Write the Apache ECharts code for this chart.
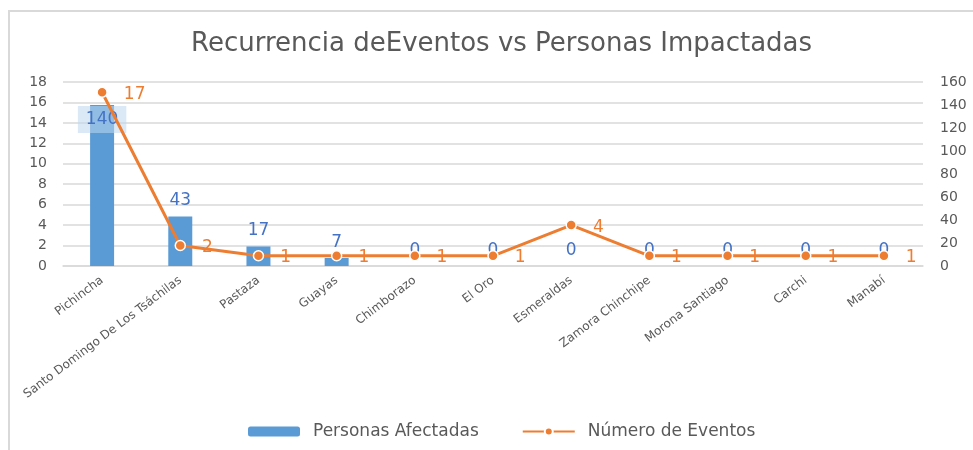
<!DOCTYPE html>
<html>
<head>
<meta charset="utf-8">
<script src="https://cdn.jsdelivr.net/npm/echarts@6/dist/echarts.min.js"></script>
<style>
html,body{margin:0;padding:0;background:#fff;}
#frame{position:absolute;left:8px;top:10px;width:965px;height:440px;border-left:2px solid #d9d9d9;border-top:2px solid #d9d9d9;box-sizing:border-box;}
#main{position:absolute;left:0;top:0;width:973px;height:450px;}
</style>
</head>
<body>
<div id="frame"></div>
<div id="main"></div>
<script>
const categories = ['Pichincha','Santo Domingo De Los Tsáchilas','Pastaza','Guayas','Chimborazo','El Oro','Esmeraldas','Zamora Chinchipe','Morona Santiago','Carchi','Manabí'];
const personasAfectadas = [140, 43, 17, 7, 0, 0, 0, 0, 0, 0, 0];
const numeroEventos = [17, 2, 1, 1, 1, 1, 4, 1, 1, 1, 1];
const leftTicks = {min: 0, max: 18, interval: 2};
const rightTicks = {min: 0, max: 160, interval: 20};

const FONT = 'DejaVu Sans';
const chart = echarts.init(document.getElementById('main'), null, {renderer: 'canvas'});

const barData = personasAfectadas.map((v, i) => {
  if (i === 0) {
    return {value: v, label: {position: 'insideTop', distance: 1, backgroundColor: 'rgba(189,215,238,0.55)', padding: [5, 8, 5, 8]}};
  }
  return v;
});

chart.setOption({
  animation: false,
  title: {
    text: 'Recurrencia deEventos vs Personas Impactadas',
    left: 186, top: 26,
    textStyle: {fontFamily: FONT, fontSize: 26, fontWeight: 'normal', color: '#595959'}
  },
  grid: {left: 63, right: 50, top: 82, bottom: 184, containLabel: false},
  legend: {
    left: 243, top: 418,
    itemWidth: 52, itemHeight: 10, itemGap: 43,
    textStyle: {fontFamily: FONT, fontSize: 17, color: '#595959', padding: [0, 0, 0, 8]},
    data: ['Personas Afectadas', 'Número de Eventos']
  },
  xAxis: {
    type: 'category', data: categories,
    axisLine: {lineStyle: {color: '#d9d9d9', width: 1.5}},
    axisTick: {show: false},
    axisLabel: {rotate: 37, interval: 0, fontFamily: FONT, fontSize: 12, color: '#595959', margin: 13}
  },
  yAxis: [
    {type: 'value', min: leftTicks.min, max: leftTicks.max, interval: leftTicks.interval,
     axisLine: {show: false}, axisTick: {show: false},
     axisLabel: {fontFamily: FONT, fontSize: 14, color: '#595959', margin: 16},
     splitLine: {lineStyle: {color: '#d9d9d9', width: 1.5}}},
    {type: 'value', min: rightTicks.min, max: rightTicks.max, interval: rightTicks.interval,
     axisLine: {show: false}, axisTick: {show: false},
     axisLabel: {fontFamily: FONT, fontSize: 14, color: '#595959', margin: 17},
     splitLine: {show: false}}
  ],
  series: [
    {name: 'Personas Afectadas', type: 'bar', yAxisIndex: 1, data: barData, barWidth: 24,
     itemStyle: {color: '#5B9BD5'},
     label: {show: true, position: 'top', distance: 7, fontFamily: FONT, fontSize: 17, color: '#4472C4'}},
    {name: 'Número de Eventos', type: 'line', yAxisIndex: 0, data: numeroEventos,
     lineStyle: {color: '#ED7D31', width: 3},
     itemStyle: {color: '#ED7D31', borderColor: '#ffffff', borderWidth: 1.5},
     symbol: 'circle', symbolSize: 10,
     label: {show: true, position: 'right', distance: 16, offset: [0, 2], fontFamily: FONT, fontSize: 17, color: '#ED7D31'}}
  ]
});
</script>
</body>
</html>
